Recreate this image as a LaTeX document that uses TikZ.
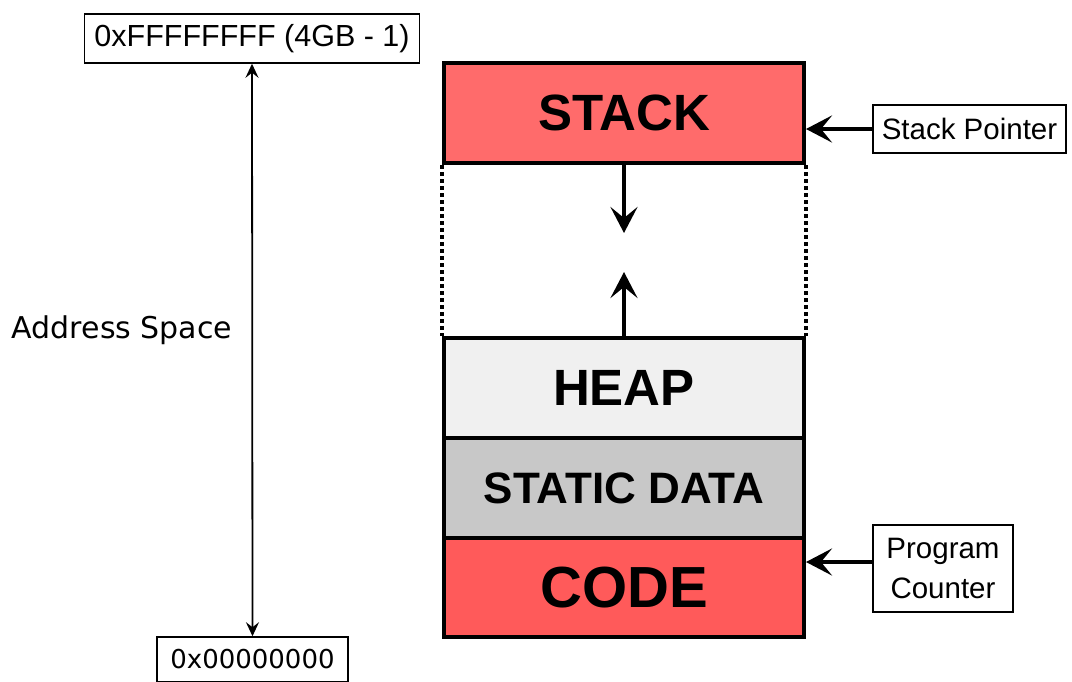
\documentclass[tikz,border=0pt]{standalone}
\usepackage{fontspec}
\setmainfont{Liberation Sans}
\newfontfamily\verd{DejaVu Sans}
\usetikzlibrary{arrows.meta, positioning}

\definecolor{stackred}{HTML}{FF6B6B}
\definecolor{codered}{HTML}{FF5A5A}
\definecolor{heapgray}{HTML}{F0F0F0}
\definecolor{datagray}{HTML}{C8C8C8}

\tikzset{
  seg/.style={draw, line width=4pt, minimum width=360pt, minimum height=100pt, inner sep=0pt,
    font=\bfseries\fontsize{51}{51}\selectfont},
  lbl/.style={draw, line width=1.5pt, inner sep=0pt, align=center,
    font=\fontsize{29.5}{40}\selectfont},
  ptr/.style={-{Stealth[length=26pt, width=27pt, inset=11pt]}, line width=4.5pt},
}

\begin{document}
\begin{tikzpicture}[x=1pt, y=-1pt]
    \useasboundingbox (0,0) rectangle (1072,681);
    % memory layout
    \node[seg, fill=stackred] (stack) at (624,113) {STACK};
    \node[seg, fill=heapgray] (heap) at (624,388) {HEAP};
    \node[seg, fill=datagray, font=\bfseries\fontsize{44}{44}\selectfont] (static) at (624,488) {STATIC DATA};
    \node[seg, fill=codered, minimum height=99pt, font=\bfseries\fontsize{58}{58}\selectfont] (code) at (624,587.5) {CODE};
    \draw[line width=4pt, dash pattern=on 4pt off 3pt] (stack.south west) -- (heap.north west)
        (stack.south east) -- (heap.north east);
    \coordinate (down) at (624,233);
    \coordinate (up) at (624,272);
    \draw[ptr] (stack.south) -- (down);
    \draw[ptr] (heap.north) -- (up);

    % address range
    \node[lbl, minimum width=335pt, minimum height=49pt, font=\fontsize{30.5}{40}\selectfont] (top) at (252,38.5) {0xFFFFFFFF (4GB - 1)};
    \node[lbl, minimum width=191pt, minimum height=45pt, font=\verd\fontsize{26}{30}\selectfont] (bottom) at (252.5,659.5) {0x00000000};
    \draw[{Stealth[length=14pt, width=13pt, inset=5pt]}-{Stealth[length=14pt, width=13pt, inset=5pt]}, line width=1.8pt]
        (top.south) -- (bottom.north);
    \node[font=\verd\fontsize{30}{32}\selectfont] (space) at (122,330) {Address Space};

    % pointers
    \node[lbl, minimum width=193pt, minimum height=48pt] (sp) at (969.5,129) {Stack Pointer};
    \node[lbl, minimum width=140pt, minimum height=87pt] (pc) at (943,568.5) {Program\\Counter};
    \draw[ptr] (sp.west) -- (stack.east |- sp.west);
    \draw[ptr] (pc.west |- 0,562) -- (code.east |- 0,562);
\end{tikzpicture}
\end{document}
